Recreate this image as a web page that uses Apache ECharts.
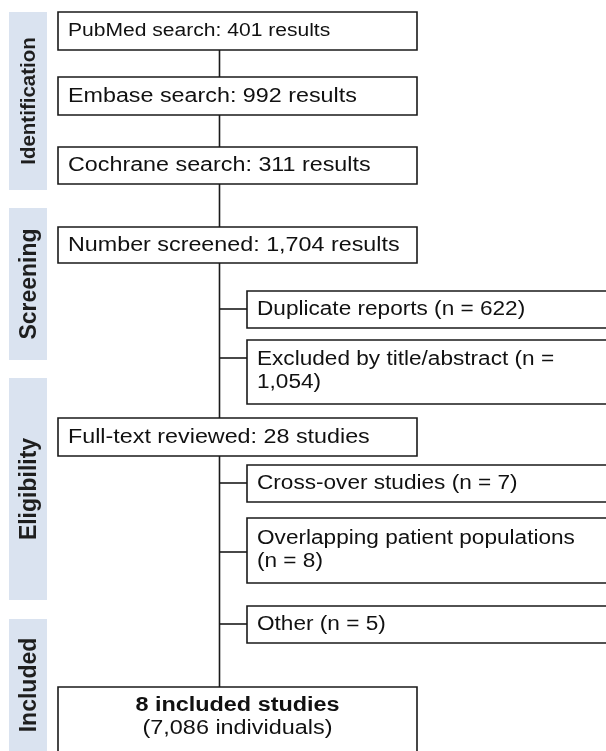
<!DOCTYPE html>
<html lang="en">
<head>
<meta charset="UTF-8">
<title>Study selection flow</title>
<script src="https://cdn.jsdelivr.net/npm/echarts@6/dist/echarts.min.js"></script>
<style>
html, body { margin: 0; background: #fff; }
#main { width: 606px; height: 751px; }
</style>
</head>
<body>
<div id="main"></div>
<script>
// chart content
var stages = ['Identification', 'Screening', 'Eligibility', 'Included'];
var steps = ['PubMed search: 401 results', 'Embase search: 992 results', 'Cochrane search: 311 results',
             'Number screened: 1,704 results', 'Full-text reviewed: 28 studies'];
var exclusions = [['Duplicate reports (n = 622)'], ['Excluded by title/abstract (n =', '1,054)'],
                  ['Cross-over studies (n = 7)'], ['Overlapping patient populations', '(n = 8)'], ['Other (n = 5)']];
var finalBox = ['8 included studies', '(7,086 individuals)'];

// layout (axis units = pixels of the picture)
var stageRows = [[12, 190], [208, 360], [378, 600], [619, 751]];
var stageFont = [20.5, 23, 23, 23];
var stepRows = [[12, 50], [77, 115], [147, 184], [227, 263], [418, 456]];
var exclRows = [[291, 328], [340, 404], [465, 502], [518, 583], [606, 643]];
var exclLinks = [309, 358, 483, 552, 624];
var finalRow = [687, 760];
var trunkX = 219.5, mainX = [58, 417], sideX = [247, 614], bandX = [9, 47];

var FONT = '"Liberation Sans", Arial, sans-serif';
var INK = '#1a1a1a';

function rectBetween(api, a, b) {
  var p0 = api.coord(a), p1 = api.coord(b);
  return { x: p0[0], y: p0[1], width: p1[0] - p0[0], height: p1[1] - p0[1] };
}

function boxWithText(api, x0, x1, row, lines, size, stretch) {
  var s = rectBetween(api, [x0, row[0]], [x1, row[1]]);
  return {
    type: 'group',
    children: [
      { type: 'rect', shape: s, style: { fill: '#fff', stroke: INK, lineWidth: 1.6 } },
      { type: 'text', x: s.x + 10, y: s.y + s.height / 2 - (lines.length > 1 ? 1 : 0), scaleX: stretch,
        style: { text: lines.join('\n'), fill: '#111', font: size + 'px ' + FONT,
                 lineHeight: 23, align: 'left', verticalAlign: 'middle' } }
    ]
  };
}

var option = {
  animation: false,
  grid: { left: 0, right: 0, top: 0, bottom: 0 },
  xAxis: { type: 'value', min: 0, max: 606, show: false },
  yAxis: { type: 'value', min: 0, max: 751, inverse: true, show: false },
  series: [
    {
      // stage bands on the left
      type: 'custom', coordinateSystem: 'cartesian2d', clip: true,
      data: stages.map(function (s, i) { return [i]; }),
      renderItem: function (params, api) {
        var i = params.dataIndex, r = stageRows[i];
        var s = rectBetween(api, [bandX[0], r[0]], [bandX[1], r[1]]);
        return {
          type: 'group',
          children: [
            { type: 'rect', shape: s, style: { fill: '#dae3f0' } },
            { type: 'text', x: s.x + s.width / 2 + 1.5, y: s.y + s.height / 2, rotation: Math.PI / 2,
              style: { text: stages[i], fill: '#1e1e1e',
                       font: 'bold ' + stageFont[i] + 'px ' + FONT,
                       align: 'center', verticalAlign: 'middle' } }
          ]
        };
      }
    },
    {
      // connector lines
      type: 'custom', coordinateSystem: 'cartesian2d', clip: true,
      data: [[0]],
      renderItem: function (params, api) {
        var top = api.coord([trunkX, stepRows[0][1]]), bot = api.coord([trunkX, finalRow[0]]);
        var kids = [{ type: 'line', shape: { x1: top[0], y1: top[1], x2: bot[0], y2: bot[1] },
                      style: { stroke: INK, lineWidth: 1.6 } }];
        exclLinks.forEach(function (y) {
          var a = api.coord([trunkX, y]), b = api.coord([sideX[0], y]);
          kids.push({ type: 'line', shape: { x1: a[0], y1: a[1], x2: b[0], y2: b[1] },
                      style: { stroke: INK, lineWidth: 1.6 } });
        });
        return { type: 'group', children: kids };
      }
    },
    {
      // main steps
      type: 'custom', coordinateSystem: 'cartesian2d', clip: true,
      data: steps.map(function (s, i) { return [i]; }),
      renderItem: function (params, api) {
        var i = params.dataIndex;
        return boxWithText(api, mainX[0], mainX[1], stepRows[i], [steps[i]], i === 0 ? 18 : 20, i === 0 ? 1.17 : 1.165);
      }
    },
    {
      // exclusion boxes
      type: 'custom', coordinateSystem: 'cartesian2d', clip: true,
      data: exclusions.map(function (s, i) { return [i]; }),
      renderItem: function (params, api) {
        var i = params.dataIndex;
        return boxWithText(api, sideX[0], sideX[1], exclRows[i], exclusions[i], 20, 1.13);
      }
    },
    {
      // included studies
      type: 'custom', coordinateSystem: 'cartesian2d', clip: true,
      data: [[0]],
      renderItem: function (params, api) {
        var s = rectBetween(api, [mainX[0], finalRow[0]], [mainX[1], finalRow[1]]);
        var cx = s.x + s.width / 2, c = api.coord([0, finalRow[0]]);
        return {
          type: 'group',
          children: [
            { type: 'rect', shape: s, style: { fill: '#fff', stroke: INK, lineWidth: 1.6 } },
            { type: 'text', x: cx, y: c[1] + 18.5, scaleX: 1.17,
              style: { text: finalBox[0], fill: '#111', font: 'bold 20px ' + FONT,
                       align: 'center', verticalAlign: 'middle' } },
            { type: 'text', x: cx, y: c[1] + 41, scaleX: 1.17,
              style: { text: finalBox[1], fill: '#111', font: '20px ' + FONT,
                       align: 'center', verticalAlign: 'middle' } }
          ]
        };
      }
    }
  ]
};

var myChart = echarts.init(document.getElementById('main'));
myChart.setOption(option);
</script>
</body>
</html>
